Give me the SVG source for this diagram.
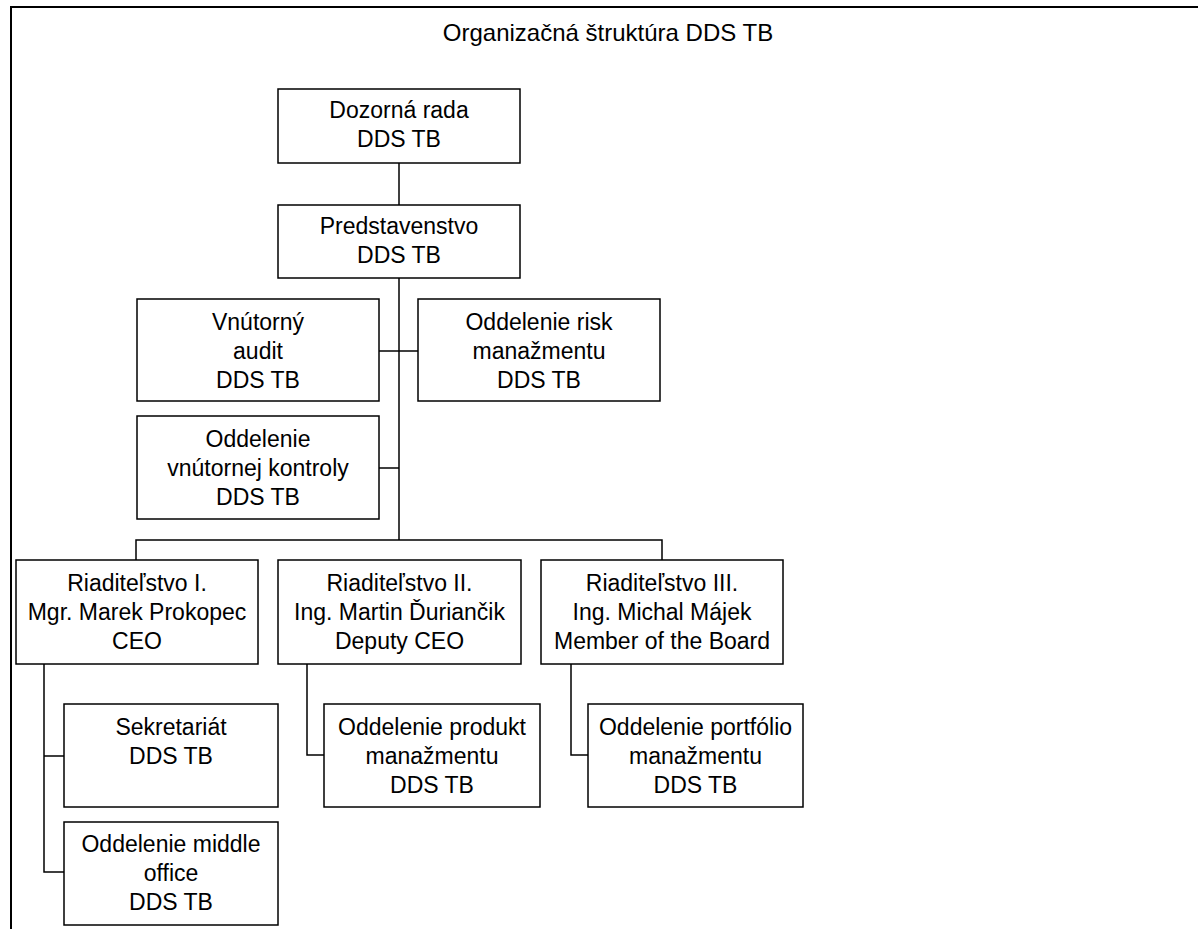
<svg xmlns="http://www.w3.org/2000/svg" width="1198" height="929" viewBox="0 0 1198 929">
<style>
.box{fill:#fff;stroke:#000;stroke-width:1.5}
.t{font-family:"Liberation Sans",Arial,sans-serif;font-size:23px;fill:#000;text-anchor:middle}
.c{fill:none;stroke:#000;stroke-width:1.5}
</style>
<rect width="1198" height="929" fill="#fff"/>
<path d="M11,929 V7 H1200" fill="none" stroke="#000" stroke-width="2"/>
<text class="t" x="608" y="41" style="font-size:24px">Organizačná štruktúra DDS TB</text>
<g id="connectors" class="c">
<path d="M399,163 V205"/>
<path d="M399,278 V540"/>
<path d="M379,351 H418"/>
<path d="M379,468 H399"/>
<path d="M136,560 V540 H662 V560"/>
<path d="M44,664 V872 H64 M44,756 H64"/>
<path d="M307,664 V755 H324"/>
<path d="M571,664 V755 H588"/>
</g>
<g id="dozorna"><rect class="box" x="278" y="89" width="242" height="74"/><text class="t"><tspan x="399" y="118">Dozorná rada</tspan><tspan x="399" y="147">DDS TB</tspan></text></g>
<g id="predstavenstvo"><rect class="box" x="278" y="205" width="242" height="73"/><text class="t"><tspan x="399" y="234">Predstavenstvo</tspan><tspan x="399" y="263">DDS TB</tspan></text></g>
<g id="audit"><rect class="box" x="137" y="299" width="242" height="102"/><text class="t"><tspan x="258" y="330">Vnútorný</tspan><tspan x="258" y="359">audit</tspan><tspan x="258" y="388">DDS TB</tspan></text></g>
<g id="risk"><rect class="box" x="418" y="299" width="242" height="102"/><text class="t"><tspan x="539" y="330">Oddelenie risk</tspan><tspan x="539" y="359">manažmentu</tspan><tspan x="539" y="388">DDS TB</tspan></text></g>
<g id="kontrola"><rect class="box" x="137" y="416" width="242" height="103"/><text class="t"><tspan x="258" y="447">Oddelenie</tspan><tspan x="258" y="476">vnútornej kontroly</tspan><tspan x="258" y="505">DDS TB</tspan></text></g>
<g id="riad1"><rect class="box" x="16" y="560" width="242" height="104"/><text class="t"><tspan x="137" y="591">Riaditeľstvo I.</tspan><tspan x="137" y="620">Mgr. Marek Prokopec</tspan><tspan x="137" y="649">CEO</tspan></text></g>
<g id="riad2"><rect class="box" x="278" y="560" width="243" height="104"/><text class="t"><tspan x="399.5" y="591">Riaditeľstvo II.</tspan><tspan x="399.5" y="620">Ing. Martin Ďuriančik</tspan><tspan x="399.5" y="649">Deputy CEO</tspan></text></g>
<g id="riad3"><rect class="box" x="541" y="560" width="242" height="104"/><text class="t"><tspan x="662" y="591">Riaditeľstvo III.</tspan><tspan x="662" y="620">Ing. Michal Májek</tspan><tspan x="662" y="649">Member of the Board</tspan></text></g>
<g id="sekretariat"><rect class="box" x="64" y="704" width="214" height="103"/><text class="t"><tspan x="171" y="735">Sekretariát</tspan><tspan x="171" y="764">DDS TB</tspan></text></g>
<g id="middleoffice"><rect class="box" x="64" y="822" width="214" height="103"/><text class="t"><tspan x="171" y="852">Oddelenie middle</tspan><tspan x="171" y="881">office</tspan><tspan x="171" y="910">DDS TB</tspan></text></g>
<g id="produkt"><rect class="box" x="324" y="704" width="216" height="103"/><text class="t"><tspan x="432" y="735">Oddelenie produkt</tspan><tspan x="432" y="764">manažmentu</tspan><tspan x="432" y="793">DDS TB</tspan></text></g>
<g id="portfolio"><rect class="box" x="588" y="704" width="215" height="103"/><text class="t"><tspan x="695.5" y="735">Oddelenie portfólio</tspan><tspan x="695.5" y="764">manažmentu</tspan><tspan x="695.5" y="793">DDS TB</tspan></text></g>
</svg>
